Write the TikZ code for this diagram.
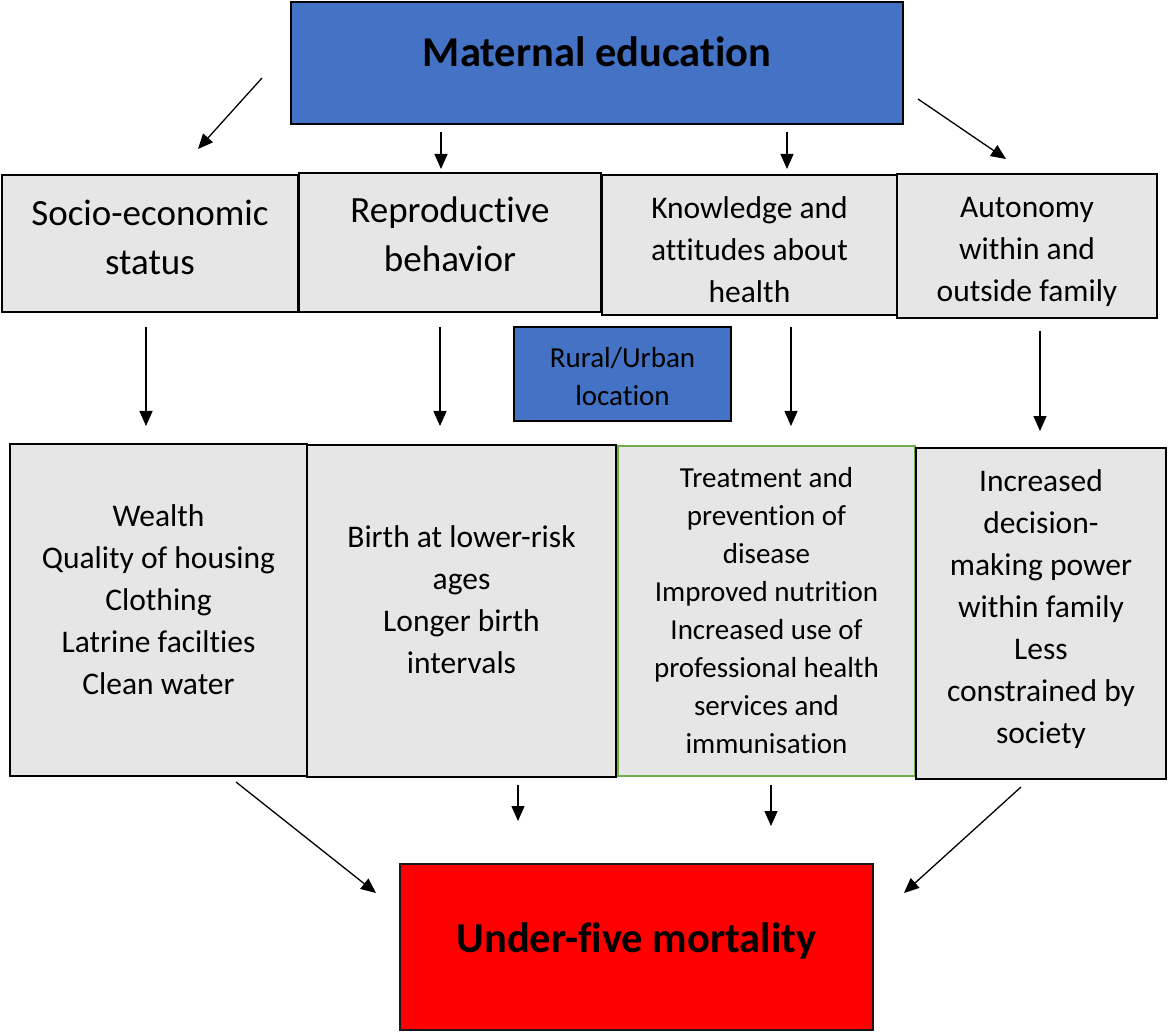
\documentclass[tikz,border=0pt]{standalone}
\usepackage{fontspec}
\setmainfont{Carlito}[Ligatures=NoCommon]
\usetikzlibrary{arrows.meta}

\definecolor{edublue}{HTML}{4472C4}
\definecolor{boxgray}{HTML}{E7E6E6}
\definecolor{boxgreen}{HTML}{70AD47}
\definecolor{mortred}{HTML}{FF0000}

\begin{document}
\begin{tikzpicture}[x=1pt, y=-1pt]
    \tikzstyle{box}=[rectangle, draw=black, line width=2.5pt, fill=boxgray, inner sep=0pt]
    \tikzstyle{connect}=[-{Triangle[length=15pt,width=13pt]}, line width=1.3pt]
    \tikzstyle{huge}=[align=center, inner sep=0pt, font=\fontsize{42.5}{51}\selectfont\bfseries]
    \tikzstyle{large}=[align=center, inner sep=0pt, font=\fontsize{37}{49}\selectfont]
    \tikzstyle{normal}=[align=center, inner sep=0pt, font=\fontsize{31.5}{42}\selectfont]
    \tikzstyle{small}=[align=center, inner sep=0pt, font=\fontsize{29}{38}\selectfont]
    \useasboundingbox (0,0) rectangle (1168,1032);

      % top and bottom
      \node[box, fill=edublue, minimum width=612pt, minimum height=122pt,
            label={[huge, yshift=11pt]center:Maternal education}] (edu) at (597,63) {};
      \node[box, fill=mortred, draw=black!90, minimum width=473pt, minimum height=166pt,
            label={[huge, yshift=6pt]center:Under-five mortality}] (u5) at (636.5,947) {};

      % pathways
      \node[box, minimum width=296pt, minimum height=137pt,
            label={[large, yshift=6pt]center:{Socio-economic\\status}}] (ses) at (150,243.5) {};
      \node[box, minimum width=302pt, minimum height=139pt,
            label={[large, yshift=8pt]center:{Reproductive\\behavior}}] (repro) at (450,242.5) {};
      \node[box, minimum width=295pt, minimum height=140pt,
            label={[normal, yshift=-5pt]center:{Knowledge and\\attitudes about\\health}}] (know) at (749.5,245) {};
      \node[box, minimum width=260pt, minimum height=144pt,
            label={[normal, yshift=-6pt]center:{Autonomy\\within and\\outside family}}] (auto) at (1027,246) {};
      \node[box, fill=edublue, minimum width=217pt, minimum height=94pt,
            label={[small, yshift=-3pt]center:{Rural/Urban\\location}}] (rural) at (622.5,374) {};

      % outcomes
      \node[box, minimum width=297pt, minimum height=332pt,
            label={[normal, yshift=10pt]center:{Wealth\\Quality of housing\\Clothing\\Latrine facilties\\Clean water}}] (wealth) at (158.5,610) {};
      \node[box, minimum width=309pt, minimum height=332pt,
            label={[normal, yshift=11pt]center:{Birth at lower-risk\\ages\\Longer birth\\intervals}}] (birth) at (461.5,611) {};
      \node[box, draw=boxgreen, line width=2pt, minimum width=297pt, minimum height=330pt,
            label={[small]center:{Treatment and\\prevention of\\disease\\Improved nutrition\\Increased use of\\professional health\\services and\\immunisation}}] (treat) at (766.5,611) {};
      \node[box, minimum width=250pt, minimum height=331pt,
            label={[normal, yshift=4pt]center:{Increased\\decision-\\making power\\within family\\Less\\constrained by\\society}}] (power) at (1041,613.5) {};

      % arrow ends
      \coordinate (e1) at (262,78);   \coordinate (s1) at (198,149);
      \coordinate (e2) at (441,132);  \coordinate (s2) at (441,169);
      \coordinate (e3) at (787,132);  \coordinate (s3) at (787,169);
      \coordinate (e4) at (918,99);   \coordinate (s4) at (1006,159);
      \coordinate (p1) at (146,327);  \coordinate (q1) at (146,426);
      \coordinate (p2) at (440,327);  \coordinate (q2) at (440,426);
      \coordinate (p3) at (791,327);  \coordinate (q3) at (791,426);
      \coordinate (p4) at (1040,331); \coordinate (q4) at (1040,431);
      \coordinate (o1) at (236,782);  \coordinate (m1) at (376,893);
      \coordinate (o2) at (518,785);  \coordinate (m2) at (518,821);
      \coordinate (o3) at (771,785);  \coordinate (m3) at (771,826);
      \coordinate (o4) at (1021,787); \coordinate (m4) at (904,893);

      \foreach \a/\b in {e1/s1, e2/s2, e3/s3, e4/s4, p1/q1, p2/q2, p3/q3, p4/q4, o1/m1, o2/m2, o3/m3, o4/m4}
        \draw[connect] (\a) -- (\b);
\end{tikzpicture}
\end{document}
